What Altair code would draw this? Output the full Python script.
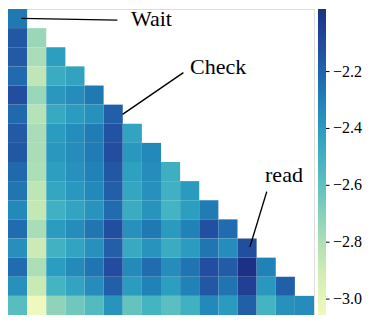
import altair as alt
import pandas as pd

# lower-triangular matrix of values (row i has i+1 entries)
values = [
    [-2.27],
    [-2.15, -2.75],
    [-2.16, -2.79, -2.41],
    [-2.22, -2.85, -2.475, -2.43],
    [-2.115, -2.75, -2.384, -2.34, -2.27],
    [-2.217, -2.82, -2.464, -2.40, -2.362, -2.18],
    [-2.16, -2.79, -2.40, -2.345, -2.28, -2.13, -2.437],
    [-2.15, -2.79, -2.389, -2.34, -2.28, -2.109, -2.384, -2.324],
    [-2.217, -2.80, -2.41, -2.357, -2.303, -2.15, -2.421, -2.34, -2.49],
    [-2.26, -2.84, -2.448, -2.389, -2.324, -2.179, -2.448, -2.357, -2.50, -2.394],
    [-2.324, -2.862, -2.496, -2.437, -2.367, -2.227, -2.475, -2.367, -2.513, -2.41, -2.281],
    [-2.227, -2.787, -2.40, -2.34, -2.26, -2.115, -2.357, -2.27, -2.394, -2.303, -2.12, -2.227],
    [-2.351, -2.89, -2.507, -2.437, -2.362, -2.179, -2.464, -2.367, -2.475, -2.40, -2.26, -2.34, -2.115],
    [-2.227, -2.80, -2.405, -2.335, -2.254, -2.104, -2.335, -2.227, -2.34, -2.254, -2.109, -2.174, -1.98, -2.303],
    [-2.362, -2.884, -2.513, -2.437, -2.34, -2.179, -2.40, -2.303, -2.41, -2.303, -2.15, -2.254, -2.055, -2.384, -2.18],
    [-2.572, -3.056, -2.717, -2.642, -2.561, -2.367, -2.615, -2.513, -2.583, -2.496, -2.324, -2.394, -2.179, -2.518, -2.362, -2.34],
]
n = 16
color_ticks = [-3.0, -2.8, -2.6, -2.4, -2.2]
color_domain = [-3.056, -1.98]

# annotations (in cell units)
ann_labels = ["Wait", "Check", "read"]
ann_text_x = [6.43, 9.52, 13.44]
ann_text_y = [0.905, 3.38, 9.05]
ann_from_x = [0.70, 5.99, 12.65]
ann_from_y = [0.49, 5.51, 12.44]
ann_to_x = [5.72, 9.17, 13.53]
ann_to_y = [0.58, 3.33, 9.55]

cells = pd.DataFrame(
    [{"row": i, "col": j, "row2": i + 1, "col2": j + 1, "value": v}
     for i, r in enumerate(values) for j, v in enumerate(r)]
)
ann = pd.DataFrame({
    "label": ann_labels, "tx": ann_text_x, "ty": ann_text_y,
    "x1": ann_from_x, "y1": ann_from_y, "x2": ann_to_x, "y2": ann_to_y,
})
ticks = pd.DataFrame({"tick": color_ticks})

xs = alt.Scale(domain=[0, n], nice=False, zero=False)
ys = alt.Scale(domain=[0, n], nice=False, zero=False, reverse=True)
FONT = "Liberation Serif, Times New Roman, serif"

heat = alt.Chart(cells).mark_rect(strokeWidth=0).encode(
    x=alt.X("col:Q", scale=xs, axis=None),
    x2="col2:Q",
    y=alt.Y("row:Q", scale=ys, axis=None),
    y2="row2:Q",
    color=alt.Color(
        "value:Q",
        scale=alt.Scale(scheme="yellowgreenblue", domain=color_domain),
        legend=alt.Legend(
            title=None, direction="vertical", orient="right",
            gradientLength=306, gradientThickness=8, gradientStrokeWidth=0,
            values=color_ticks, format=".1f", labelFont=FONT, labelFontSize=16,
            labelColor="black", labelOffset=7, offset=4, padding=0,
            labelOverlap=False,
        ),
    ),
)

rules = alt.Chart(ann).mark_rule(color="black", strokeWidth=1.4).encode(
    x=alt.X("x1:Q", scale=xs, axis=None),
    x2="x2:Q",
    y=alt.Y("y1:Q", scale=ys, axis=None),
    y2="y2:Q",
)

texts = alt.Chart(ann).mark_text(
    align="left", baseline="alphabetic", font=FONT, fontSize=22, color="black"
).encode(
    x=alt.X("tx:Q", scale=xs, axis=None),
    y=alt.Y("ty:Q", scale=ys, axis=None),
    text="label:N",
)

# small tick marks beside the colour bar
cbar_ticks = alt.Chart(ticks).mark_rule(color="black", strokeWidth=1).encode(
    x=alt.value(318),
    x2=alt.value(321.5),
    y=alt.Y("tick:Q", scale=alt.Scale(domain=color_domain, nice=False, zero=False), axis=None),
)

chart = alt.layer(heat, rules, texts, cbar_ticks).resolve_scale(
    y="independent"
).properties(
    width=306, height=306, padding=0
).configure_view(
    fill="#f4f4f4", stroke=None
).configure_legend(
    labelFont=FONT, labelFontSize=16, labelColor="black"
).configure(font=FONT)

chart.save("out.html", embed_options={"renderer": "svg", "actions": False})
